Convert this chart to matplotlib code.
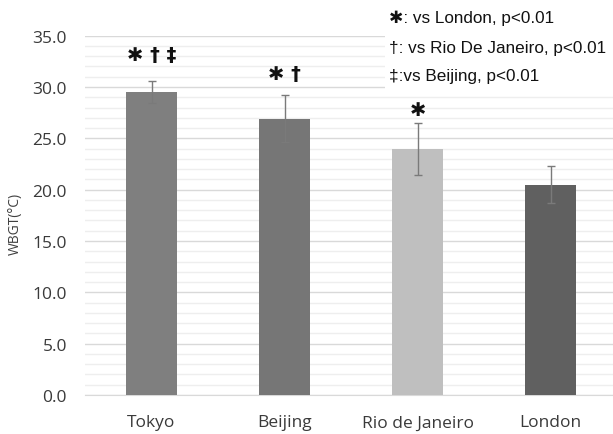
import matplotlib
matplotlib.use("Agg")
import matplotlib.pyplot as plt
from matplotlib.patches import Rectangle
import numpy as np

# データ (WBGT, 平均 ± SD)
cities = ["Tokyo", "Beijing", "Rio de Janeiro", "London"]
wbgt_mean = [29.5, 26.9, 23.95, 20.5]
wbgt_sd = [1.1, 2.3, 2.5, 1.8]
marks = ["\u2731 \u2020 \u2021", "\u2731 \u2020", "\u2731", ""]
mark_y = [33.2, 31.35, 27.85, 0]
bar_colors = ["#7f7f7f", "#767676", "#bfbfbf", "#606060"]

legend_lines = [
    "\u2731: vs London, p<0.01",
    "\u2020: vs Rio De Janeiro, p<0.01",
    "\u2021:vs Beijing, p<0.01",
]

W, H = 613, 435
fig = plt.figure(figsize=(W / 100, H / 100), dpi=100)
ax = fig.add_axes([85 / W, (H - 396) / H, 532 / W, (396 - 36.7) / H])

x = np.arange(len(cities))
ax.bar(x, wbgt_mean, width=0.385, color=bar_colors, zorder=3)
ax.errorbar(x, wbgt_mean, yerr=wbgt_sd, fmt="none", ecolor="#7a7a7a",
            elinewidth=1.0, capsize=3, capthick=1.0, zorder=4)

# 有意差の記号
for xi, yy, s in zip(x, mark_y, marks):
    if s:
        ax.text(xi, yy, s, ha="center", va="center", fontsize=14,
                fontweight="bold", family=["DejaVu Sans"], color="#111111",
                zorder=5)

ax.set_xlim(-0.5, 3.5)
ax.set_ylim(0, 35)
ax.set_yticks(np.arange(0, 36, 5))
ax.set_yticklabels([f"{v:.1f}" for v in np.arange(0, 36, 5)])
ax.set_yticks(np.arange(0, 35, 1), minor=True)
ax.grid(axis="y", which="major", color="#d9d9d9", linewidth=1.0, zorder=0)
ax.grid(axis="y", which="minor", color="#eeeeee", linewidth=1.0, zorder=0)
ax.set_xticks(x)
ax.set_xticklabels(cities)

for sp in ["top", "right", "left"]:
    ax.spines[sp].set_visible(False)
ax.spines["bottom"].set_color("#d9d9d9")
ax.tick_params(axis="both", which="both", length=0, labelsize=12.5,
               labelcolor="#3a3a3a")
ax.tick_params(axis="x", pad=14)
ax.tick_params(axis="y", pad=13)
for lab in ax.get_xticklabels() + ax.get_yticklabels():
    lab.set_family("Open Sans")

fig.text(15 / W, (H - 224) / H, "WBGT(\u00b0C)", rotation=90, ha="center",
         va="center", fontsize=10, color="#404040", family="Open Sans")

# 凡例テキスト (白いテキストボックス)
fig.add_artist(Rectangle((385 / W, (H - 93) / H), (W - 385) / W, 93 / H,
                         transform=fig.transFigure, facecolor="white",
                         edgecolor="none", zorder=10))
ys = [18, 48, 76]
for yy, t in zip(ys, legend_lines):
    fig.text(389 / W, (H - yy) / H, t, ha="left", va="center", fontsize=12.3,
             color="#111111", family=["Liberation Sans", "DejaVu Sans"],
             zorder=11)

fig.savefig("out.png", dpi=100)
